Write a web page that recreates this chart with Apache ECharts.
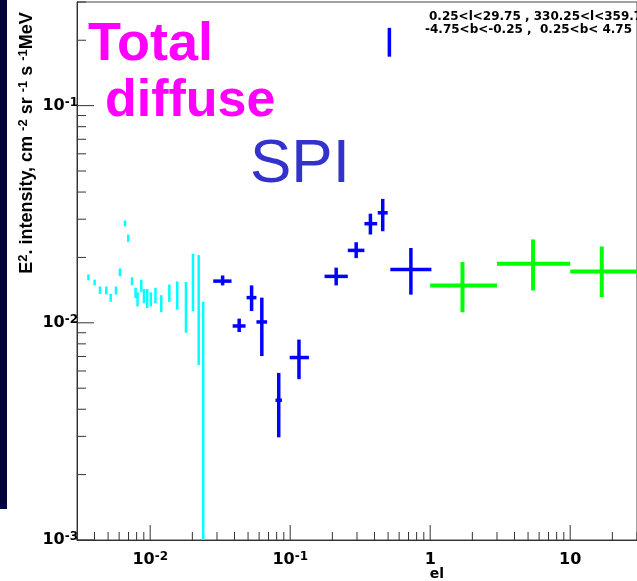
<!DOCTYPE html>
<html>
<head>
<meta charset="utf-8">
<script src="https://cdn.jsdelivr.net/npm/echarts@6.0.0/dist/echarts.min.js"></script>
<style>
  html, body { margin: 0; padding: 0; background: #fff; }
  #chart { width: 637px; height: 581px; }
</style>
</head>
<body>
<div id="chart"></div>
<script>
// fine binned diffuse spectrum (cyan), only vertical error bars
const diffE = [0.00362, 0.00401, 0.00438, 0.00486, 0.00522, 0.00570, 0.00608, 0.00661, 0.00697, 0.00741, 0.00786, 0.00812,
  0.00863, 0.00902, 0.00952, 0.0101, 0.0109, 0.0120, 0.0137, 0.0156, 0.0180, 0.0202, 0.0222, 0.0239]
const diffLow = [0.0157, 0.0149, 0.0136, 0.0135, 0.0125, 0.0135, 0.0164, 0.0278, 0.0236, 0.0149, 0.0130, 0.0119,
  0.0139, 0.0123, 0.0117, 0.0119, 0.0123, 0.0112, 0.0125, 0.0115, 0.0090, 0.0113, 0.0064, 0.0001]
const diffHigh = [0.0167, 0.0158, 0.0147, 0.0147, 0.0136, 0.0147, 0.0178, 0.0296, 0.0255, 0.0162, 0.0145, 0.0138,
  0.0158, 0.0143, 0.0143, 0.0138, 0.0145, 0.0134, 0.0150, 0.0155, 0.0154, 0.0208, 0.0205, 0.0125]

// SPI points (blue)
const spiE = [0.0329, 0.0432, 0.0530, 0.0627, 0.0828, 0.1155, 0.213, 0.296, 0.374, 0.458, 0.511, 0.728]
const spiELow = [0.0282, 0.0388, 0.0488, 0.0574, 0.0785, 0.0992, 0.176, 0.258, 0.339, 0.422, 0.511, 0.519]
const spiEHigh = [0.0381, 0.0480, 0.0574, 0.0684, 0.0873, 0.136, 0.258, 0.339, 0.418, 0.497, 0.511, 1.02]
const spiFlux = [0.01556, 0.00967, 0.01306, 0.01009, 0.0044, 0.00692, 0.01636, 0.02155, 0.0286, 0.0321, 0.196, 0.01762]
const spiFluxLow = [0.01487, 0.00907, 0.01133, 0.00703, 0.00297, 0.0055, 0.01487, 0.01986, 0.0255, 0.0264, 0.168, 0.01348]
const spiFluxHigh = [0.01652, 0.01045, 0.01487, 0.01306, 0.00588, 0.00837, 0.01795, 0.0235, 0.0318, 0.0372, 0.228, 0.0221]

// COMPTEL points (green)
const comptelE = [1.70, 5.43, 16.8]
const comptelELow = [1, 3, 10]
const comptelEHigh = [3, 10, 30]
const comptelFlux = [0.01487, 0.01871, 0.01725]
const comptelFluxLow = [0.01118, 0.0141, 0.01314]
const comptelFluxHigh = [0.01903, 0.0242, 0.02247]

// axis ranges and tick decades
const xMin = 0.003
const xMax = 30
const yMin = 0.001
const yMax = 0.3
const xDecades = [-3, -2, -1, 0, 1]
const yDecades = [-3, -2, -1]
const tickSteps = [1, 2, 3, 4, 5, 6, 7, 8, 9]

function decadeTicks (decades, lo, hi) {
  var out = []
  decades.forEach(function (d) {
    tickSteps.forEach(function (m) {
      var v = Number((m * Math.pow(10, d)).toPrecision(6))
      if (v >= lo && v <= hi) out.push([v, m === 1 ? 1 : 0])
    })
  })
  return out
}

function powLabel (v) {
  var e = Math.log10(v)
  var r = Math.round(e)
  if (Math.abs(e - r) > 1e-6) return ''
  if (r === 0) return '{b|1}'
  if (r === 1) return '{b|10}'
  return '{b|10}{s|' + r + '}'
}

const labelRich = {
  b: { fontFamily: 'DejaVu Sans', fontWeight: 'bold', fontSize: 16, color: '#000', lineHeight: 18 },
  s: { fontFamily: 'DejaVu Sans', fontWeight: 'bold', fontSize: 12, color: '#000', verticalAlign: 'top', lineHeight: 18 }
}

function crossRenderer (color, width) {
  return function (params, api) {
    var c = api.coord([api.value(0), api.value(1)])
    var l = api.coord([api.value(2), api.value(1)])
    var r = api.coord([api.value(3), api.value(1)])
    var lo = api.coord([api.value(0), api.value(4)])
    var hi = api.coord([api.value(0), api.value(5)])
    var style = { stroke: color, lineWidth: width }
    var kids = [{ type: 'line', shape: { x1: c[0], y1: lo[1], x2: c[0], y2: hi[1] }, style: style }]
    if (r[0] - l[0] > 1) {
      kids.push({ type: 'line', shape: { x1: l[0], y1: c[1], x2: r[0], y2: c[1] }, style: style })
    }
    return { type: 'group', children: kids }
  }
}

var chart = echarts.init(document.getElementById('chart'))

var diffData = diffE.map(function (e, i) { return [e, diffLow[i], e, e, diffLow[i], diffHigh[i]] })
var spiData = spiE.map(function (e, i) { return [e, spiFlux[i], spiELow[i], spiEHigh[i], spiFluxLow[i], spiFluxHigh[i]] })
var comptelData = comptelE.map(function (e, i) {
  return [e, comptelFlux[i], comptelELow[i], comptelEHigh[i], comptelFluxLow[i], comptelFluxHigh[i]]
})

chart.setOption({
  animation: false,
  backgroundColor: '#fff',
  grid: {
    left: 77,
    top: 2,
    width: 562,
    height: 538,
    show: true,
    borderColor: '#444',
    borderWidth: 1
  },
  xAxis: {
    type: 'log',
    logBase: 10,
    min: xMin,
    max: xMax,
    axisLine: { lineStyle: { color: '#333', width: 1 } },
    axisTick: { show: false },
    splitLine: { show: false },
    axisLabel: { formatter: powLabel, rich: labelRich, margin: 11, showMinLabel: false, showMaxLabel: false }
  },
  yAxis: {
    type: 'log',
    logBase: 10,
    min: yMin,
    max: yMax,
    axisLine: { lineStyle: { color: '#333', width: 1 } },
    axisTick: { show: false },
    splitLine: { show: false },
    axisLabel: { formatter: powLabel, rich: labelRich, margin: -1, showMaxLabel: false }
  },
  graphic: [
    { type: 'rect', shape: { x: 0, y: 0, width: 7, height: 509 }, style: { fill: '#03033c' } },
    {
      type: 'text', x: 27, y: 143, rotation: Math.PI / 2,
      style: {
        text: '{t|E}{u|2}{t|. intensity, cm }{u|-2}{t| sr }{u|-1}{t| s }{u|-1}{t|MeV}',
        rich: {
          t: { fontFamily: 'Liberation Sans', fontWeight: 'bold', fontSize: 18, fill: '#000', lineHeight: 21 },
          u: { fontFamily: 'Liberation Sans', fontWeight: 'bold', fontSize: 13, fill: '#000', verticalAlign: 'top', lineHeight: 21 }
        },
        align: 'center', verticalAlign: 'middle'
      }
    },
    {
      type: 'text', x: 88, y: 45,
      style: { text: 'Total', fontFamily: 'Liberation Sans', fontWeight: 'bold', fontSize: 54, fill: '#ff00ff', verticalAlign: 'middle' }
    },
    {
      type: 'text', x: 105, y: 102,
      style: { text: 'diffuse', fontFamily: 'Liberation Sans', fontWeight: 'bold', fontSize: 52, fill: '#ff00ff', verticalAlign: 'middle' }
    },
    {
      type: 'text', x: 250, y: 165,
      style: { text: 'SPI', fontFamily: 'Liberation Sans', fontSize: 62, fill: '#3333cc', verticalAlign: 'middle' }
    },
    {
      type: 'text', x: 429, y: 17,
      style: { text: '0.25<l<29.75 , 330.25<l<359.75', fontFamily: 'DejaVu Sans', fontWeight: 'bold', fontSize: 12, fill: '#000', verticalAlign: 'middle' }
    },
    {
      type: 'text', x: 425, y: 30,
      style: { text: '-4.75<b<-0.25 ,  0.25<b< 4.75', fontFamily: 'DejaVu Sans', fontWeight: 'bold', fontSize: 12, fill: '#000', verticalAlign: 'middle' }
    },
    {
      type: 'text', x: 437, y: 574,
      style: { text: 'el', fontFamily: 'DejaVu Sans', fontWeight: 'bold', fontSize: 14, fill: '#000', align: 'center', verticalAlign: 'middle' }
    }
  ],
  series: [
    {
      name: 'x ticks',
      type: 'custom',
      silent: true,
      data: decadeTicks(xDecades, xMin, xMax),
      renderItem: function (params, api) {
        var p = api.coord([api.value(0), yMin])
        var len = api.value(1) ? 15 : 8
        return { type: 'line', shape: { x1: p[0], y1: p[1], x2: p[0], y2: p[1] - len }, style: { stroke: '#333', lineWidth: 1 } }
      }
    },
    {
      name: 'y ticks',
      type: 'custom',
      silent: true,
      data: decadeTicks(yDecades, yMin, yMax).map(function (t) { return [xMin, t[0], t[1]] }),
      renderItem: function (params, api) {
        var p = api.coord([xMin, api.value(1)])
        var len = api.value(2) ? 17 : 9
        return { type: 'line', shape: { x1: p[0], y1: p[1], x2: p[0] + len, y2: p[1] }, style: { stroke: '#333', lineWidth: 1 } }
      }
    },
    {
      name: 'diffuse',
      type: 'custom',
      clip: true,
      data: diffData,
      renderItem: crossRenderer('#00ffff', 2.5)
    },
    {
      name: 'SPI',
      type: 'custom',
      clip: true,
      data: spiData,
      renderItem: crossRenderer('#0000ff', 3.5)
    },
    {
      name: 'COMPTEL',
      type: 'custom',
      clip: true,
      data: comptelData,
      renderItem: crossRenderer('#00ff00', 4)
    }
  ]
})
</script>
</body>
</html>
